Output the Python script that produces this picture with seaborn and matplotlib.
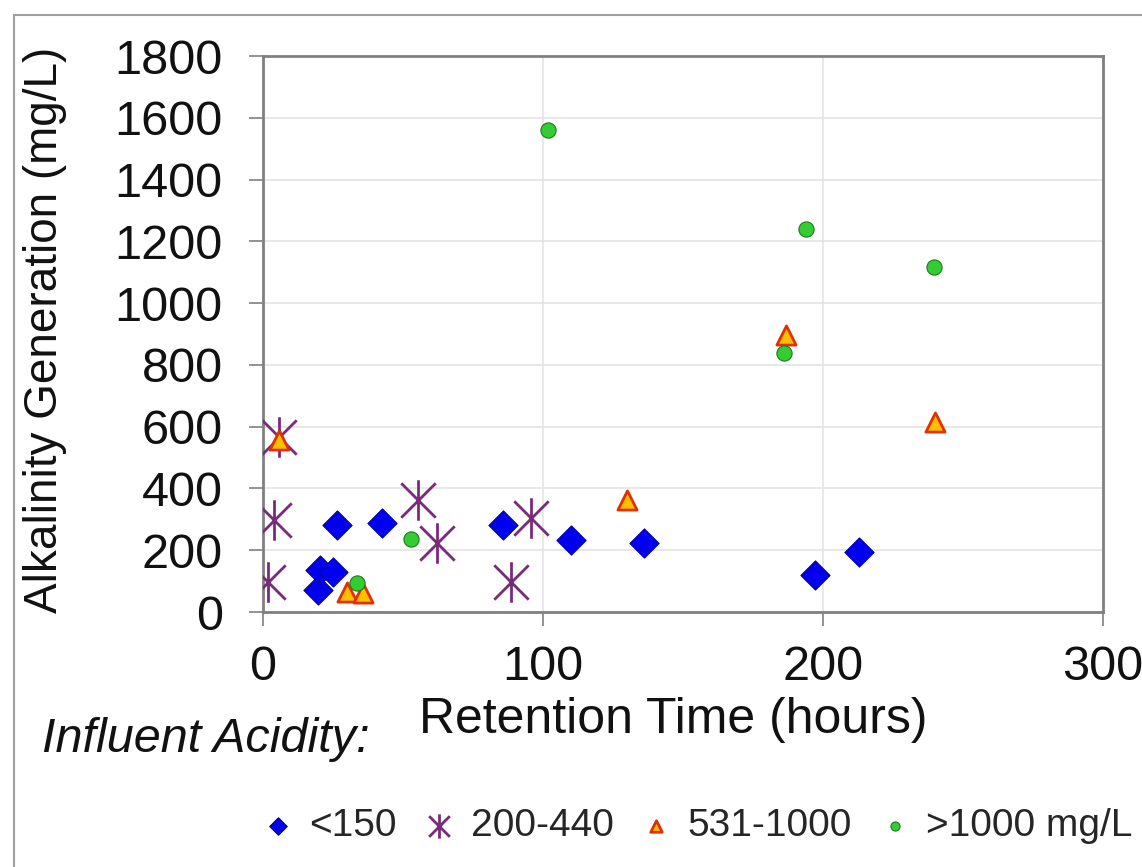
import seaborn as sns
import matplotlib.pyplot as plt
from matplotlib.path import Path
from matplotlib.patches import Rectangle

sns.set_theme(style="white")
plt.rcParams['font.family'] = ['Liberation Sans', 'DejaVu Sans']

# retention time (hours) and alkalinity generation (mg/L) per influent acidity class
lt150_x = [19.6, 20.4, 25.0, 26.4, 42.5, 85.7, 110, 136, 197, 213]
lt150_y = [71, 136, 129, 282, 288, 282, 233, 223, 120, 194]

mid_x = [5.7, 3.9, 1.8, 55.4, 62, 88.6, 95.7]
mid_y = [566, 298, 97, 362, 223, 97, 305]

high_x = [5.7, 30, 35.7, 130, 186.8, 240]
high_y = [557, 65, 61, 362, 896, 615]

vhigh_x = [53, 33.5, 101.8, 194, 239.6, 186]
vhigh_y = [236, 94, 1560, 1239, 1117, 838]

labels = ['<150', '200-440', '531-1000', '>1000 mg/L']

# asterisk: vertical bar plus an X
star = Path([(0, -1), (0, 1), (-0.85, -0.85), (0.85, 0.85), (-0.85, 0.85), (0.85, -0.85)],
            [Path.MOVETO, Path.LINETO, Path.MOVETO, Path.LINETO, Path.MOVETO, Path.LINETO])

fig = plt.figure(figsize=(11.42, 8.67), dpi=100)
ax = fig.add_axes([263 / 1142, 1 - 612 / 867, 840 / 1142, 556 / 867])

fig.patches.append(Rectangle((14 / 1142, -0.1), 1.2, (1 - 15 / 867) + 0.1,
                             transform=fig.transFigure, fill=False,
                             edgecolor='#a0a0a0', linewidth=1.5))

sns.scatterplot(x=lt150_x, y=lt150_y, ax=ax, marker='D', s=220, color='#0000ee',
                edgecolor='#0000a0', linewidth=0.8, label=labels[0], zorder=3)
sns.scatterplot(x=mid_x, y=mid_y, ax=ax, marker=star, s=850, color='#7a2a7a',
                edgecolor='#7a2a7a', linewidth=2.0, label=labels[1], zorder=3)
sns.scatterplot(x=high_x, y=high_y, ax=ax, marker='^', s=190, color='#ffc000',
                edgecolor='#e03000', linewidth=2, label=labels[2], zorder=4)
sns.scatterplot(x=vhigh_x, y=vhigh_y, ax=ax, marker='o', s=120, color='#33cc33',
                edgecolor='#1f7a1f', linewidth=0.8, label=labels[3], zorder=4)

ax.set_xlim(0, 300)
ax.set_ylim(0, 1800)
ax.set_xticks([0, 100, 200, 300])
ax.set_yticks(range(0, 1801, 200))
ax.grid(True, color='#e4e4e4', linewidth=1.2)
ax.set_axisbelow(True)
for sp in ax.spines.values():
    sp.set_color('#808080')
    sp.set_linewidth(2)
ax.tick_params(axis='both', labelsize=35, colors='#808080', labelcolor='#111111',
               direction='out', length=10, width=1.2, left=True, bottom=True)
ax.tick_params(axis='x', pad=14)
ax.tick_params(axis='y', pad=19)

ax.set_xlabel('Retention Time (hours)', fontsize=36, color='#111111', va='center')
ax.xaxis.set_label_coords((673 - 263) / 840, (612 - 720) / 556)
ax.set_ylabel('Alkalinity Generation (mg/L)', fontsize=33, color='#111111', va='center')
ax.yaxis.set_label_coords((45 - 263) / 840, (612 - 330) / 556)

h, l = ax.get_legend_handles_labels()
ax.legend_.remove()
fig.legend(h, l, loc='center right', bbox_to_anchor=(1132 / 1142, 1 - 826 / 867), ncol=4,
           frameon=False, fontsize=28, handlelength=1.0, handletextpad=0.3,
           columnspacing=0.6, markerscale=0.6, borderaxespad=0, borderpad=0)

fig.text(42 / 1142, 1 - 740 / 867, 'Influent Acidity:', fontsize=35, style='italic',
         va='center', ha='left', color='#111111')

fig.savefig('out.png', dpi=100)
